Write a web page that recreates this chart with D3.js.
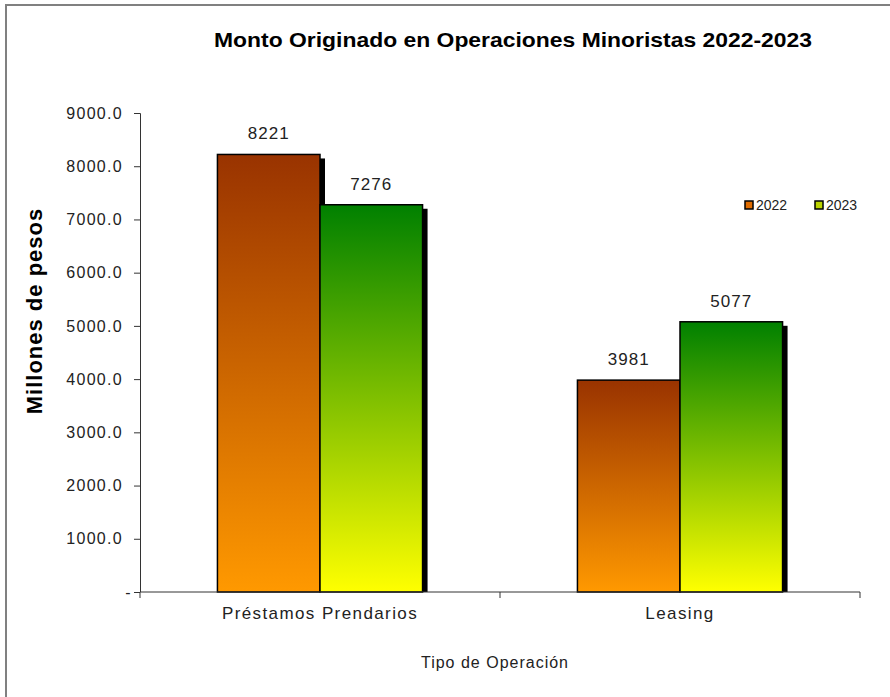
<!DOCTYPE html>
<html>
<head>
<meta charset="utf-8">
<script src="https://cdn.jsdelivr.net/npm/d3@7"></script>
<style>
  body { margin: 0; background: #fff; }
  text { font-family: "Liberation Sans", Arial, sans-serif; }
</style>
</head>
<body>
<div id="chart"></div>
<script>
// chart data
var categories = ["Préstamos Prendarios", "Leasing"];
var seriesNames = ["2022", "2023"];
var values2022 = [8221, 3981];
var values2023 = [7276, 5077];
var yTicks = [0, 1000, 2000, 3000, 4000, 5000, 6000, 7000, 8000, 9000];

var svgWidth = 890, svgHeight = 697;
var margin = { top: 113, left: 140 };
var chartWidth = 720;
var chartHeight = 479;

var svg = d3.select("#chart").append("svg")
    .attr("width", svgWidth)
    .attr("height", svgHeight);

// gradients for the two series
var defs = svg.append("defs");
var gradColors = [["#993300", "#ff9900"], ["#008000", "#ffff00"]];
gradColors.forEach(function(c, i){
    var g = defs.append("linearGradient")
        .attr("id", "grad" + i)
        .attr("x1", 0).attr("y1", 0).attr("x2", 0).attr("y2", 1);
    g.append("stop").attr("offset", "0%").attr("stop-color", c[0]);
    g.append("stop").attr("offset", "100%").attr("stop-color", c[1]);
});

// frame (only top and left visible)
svg.append("path")
    .attr("d", "M6,697 L6,5 L890,5")
    .attr("fill", "none")
    .attr("stroke", "#808080")
    .attr("stroke-width", 2);

var chartGroup = svg.append("g")
    .attr("transform", `translate(${margin.left}, ${margin.top})`);

var xScale = d3.scaleBand()
    .domain(categories)
    .range([0, chartWidth]);

var xInner = d3.scaleBand()
    .domain(seriesNames)
    .range([0, xScale.bandwidth()])
    .paddingInner(0)
    .paddingOuter(0.755);

var yScale = d3.scaleLinear()
    .domain([0, 9000])
    .range([chartHeight, 0]);

var data = categories.map(function(c, i){
    return { cat: c, vals: [values2022[i], values2023[i]] };
});

// bars
var groups = chartGroup.selectAll(".grp")
    .data(data)
    .enter().append("g")
    .attr("class", "grp")
    .attr("transform", d => `translate(${xScale(d.cat)},0)`);

// shadows first
groups.selectAll(".shadow")
    .data(d => d.vals.map((v, i) => ({ v: v, s: seriesNames[i] })))
    .enter().append("rect")
    .attr("x", d => xInner(d.s) + 5)
    .attr("y", d => yScale(d.v) + 4)
    .attr("width", xInner.bandwidth())
    .attr("height", d => chartHeight - yScale(d.v) - 4)
    .attr("fill", "#000");

groups.selectAll(".bar")
    .data(d => d.vals.map((v, i) => ({ v: v, s: seriesNames[i], i: i })))
    .enter().append("rect")
    .attr("x", d => xInner(d.s))
    .attr("y", d => yScale(d.v))
    .attr("width", xInner.bandwidth())
    .attr("height", d => chartHeight - yScale(d.v))
    .attr("fill", d => `url(#grad${d.i})`)
    .attr("stroke", "#000")
    .attr("stroke-width", 1.5);

groups.selectAll(".lbl")
    .data(d => d.vals.map((v, i) => ({ v: v, s: seriesNames[i] })))
    .enter().append("text")
    .attr("x", d => xInner(d.s) + xInner.bandwidth() / 2)
    .attr("y", d => yScale(d.v) - 15)
    .attr("text-anchor", "middle")
    .attr("font-size", "17px")
    .attr("letter-spacing", "1px")
    .attr("fill", "#222")
    .text(d => d.v);

// y axis
var leftAxis = d3.axisLeft(yScale)
    .tickValues(yTicks)
    .tickSize(6)
    .tickFormat(d => d === 0 ? "-" : d3.format(".1f")(d));
var yAxisG = chartGroup.append("g").call(leftAxis);
yAxisG.select(".domain").attr("stroke", "#333").attr("d", `M-6,0.5H0.5V${chartHeight}`);
yAxisG.selectAll("text")
    .attr("font-size", "16px")
    .attr("letter-spacing", "1.3px")
    .attr("fill", "#222")
    .attr("x", -17);
yAxisG.selectAll(".tick line").attr("stroke", "#333");
yAxisG.selectAll(".tick").filter(d => d === 0).select("text").attr("x", -8);

// x axis
var xAxisG = chartGroup.append("g")
    .attr("transform", `translate(0, ${chartHeight})`);
xAxisG.append("line")
    .attr("x1", 0).attr("x2", chartWidth)
    .attr("stroke", "#333");
xAxisG.selectAll(".xt")
    .data([0, xScale.bandwidth(), chartWidth])
    .enter().append("line")
    .attr("x1", d => d).attr("x2", d => d)
    .attr("y1", 0).attr("y2", 6)
    .attr("stroke", "#333");
xAxisG.selectAll(".xl")
    .data(categories)
    .enter().append("text")
    .attr("x", d => xScale(d) + xScale.bandwidth() / 2)
    .attr("y", 27)
    .attr("text-anchor", "middle")
    .attr("font-size", "17px")
    .attr("letter-spacing", "1.4px")
    .attr("fill", "#222")
    .text(d => d);

// titles
svg.append("text")
    .attr("x", 513).attr("y", 47)
    .attr("text-anchor", "middle")
    .attr("font-size", "21px")
    .attr("font-weight", "bold")
    .attr("textLength", 598)
    .attr("lengthAdjust", "spacingAndGlyphs")
    .attr("fill", "#000")
    .text("Monto Originado en Operaciones Minoristas 2022-2023");

svg.append("text")
    .attr("transform", "translate(42, 311) rotate(-90)")
    .attr("text-anchor", "middle")
    .attr("font-size", "22px")
    .attr("font-weight", "bold")
    .attr("letter-spacing", "1px")
    .attr("fill", "#000")
    .text("Millones de pesos");

svg.append("text")
    .attr("x", 495).attr("y", 668)
    .attr("text-anchor", "middle")
    .attr("font-size", "16px")
    .attr("letter-spacing", "1px")
    .attr("fill", "#222")
    .text("Tipo de Operación");

// legend
var legend = svg.append("g").attr("transform", "translate(745, 205)");
seriesNames.forEach(function(s, i){
    var lg = legend.append("g").attr("transform", `translate(${i * 70}, 0)`);
    lg.append("rect")
        .attr("x", 0).attr("y", -4).attr("width", 8).attr("height", 8)
        .attr("fill", i === 0 ? "#e06c00" : "#bcd400")
        .attr("stroke", "#000").attr("stroke-width", 1.5);
    lg.append("text")
        .attr("x", 11).attr("y", 5)
        .attr("font-size", "14px")
        .attr("fill", "#222")
        .text(s);
});
</script>
</body>
</html>
